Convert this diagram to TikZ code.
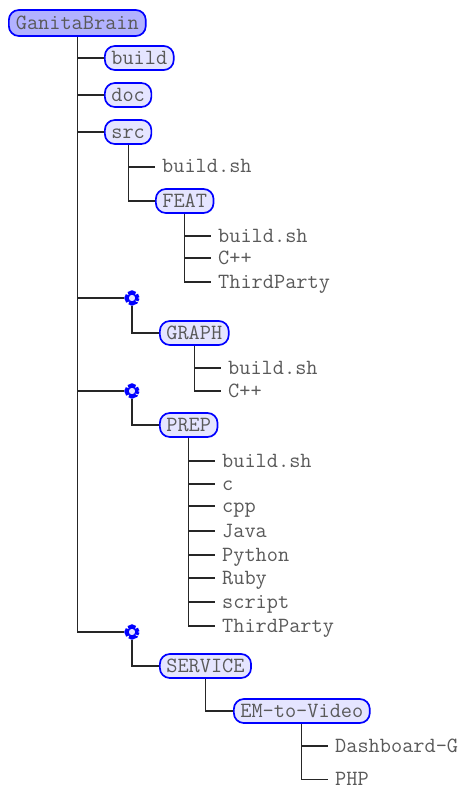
\documentclass[tikz,border=0pt]{standalone}
\usepackage{tikz}
\usetikzlibrary{positioning, shapes.geometric}

\begin{document}
\begin{tikzpicture}[x=1pt, y=-1pt, every node/.style={font=\fontsize{21.7}{24}\ttfamily, text=black!65, text height=15.5pt, text depth=3.5pt}]
    % styles
    \tikzstyle{rootdir} = [rectangle, rounded corners=10pt, draw=blue, line width=1.7pt, fill=blue!30, text height=16.5pt, inner xsep=7pt, inner ysep=3pt]
    \tikzstyle{dirbox} = [rectangle, rounded corners=10pt, draw=blue, line width=1.7pt, fill=blue!10, text height=16.5pt, inner xsep=6.5pt, inner ysep=2pt]
    \tikzstyle{leaf} = [rectangle, inner xsep=7pt, inner ysep=0pt]
    \tikzstyle{fold} = [circle, draw=blue, line width=4.2pt, dash pattern=on 7.5pt off 1.14pt, dash phase=3.75pt, fill=blue!10, text height=0pt, text depth=0pt, minimum size=11pt, inner sep=0pt]
    \tikzstyle{branch} = [line width=1.2pt, draw=black!85]

    \useasboundingbox (0,0) rectangle (459,786);

    % top level
    \node (root) [rootdir, anchor=west] at (8,23) {GanitaBrain};
    \node (build) [dirbox, anchor=west] at (104,58) {build};
    \node (doc) [dirbox, anchor=west] at (104,95) {doc};
    \node (src) [dirbox, anchor=west] at (104,132) {src};
    \node (foldG) [fold] at (132,298) {};
    \node (foldP) [fold] at (132,391) {};
    \node (foldS) [fold] at (132,632) {};

    % src
    \node (srcbuild) [leaf, anchor=west] at (155,167) {build.sh};
    \node (feat) [dirbox, anchor=west] at (155,201) {FEAT};
    \node (featbuild) [leaf, anchor=west] at (211,236) {build.sh};
    \node (featcpp) [leaf, anchor=west] at (211,258) {C++};
    \node (featthird) [leaf, anchor=west] at (211,282) {ThirdParty};

    % graph
    \node (graph) [dirbox, anchor=west] at (159,333) {GRAPH};
    \node (graphbuild) [leaf, anchor=west] at (221,368) {build.sh};
    \node (graphcpp) [leaf, anchor=west] at (221,391) {C++};

    % prep
    \node (prep) [dirbox, anchor=west] at (159,425) {PREP};
    \node (prepbuild) [leaf, anchor=west] at (215,461) {build.sh};
    \node (prepc) [leaf, anchor=west] at (215,484) {c};
    \node (prepcpp) [leaf, anchor=west] at (215,506) {cpp};
    \node (prepjava) [leaf, anchor=west] at (215,531) {Java};
    \node (preppython) [leaf, anchor=west] at (215,555) {Python};
    \node (prepruby) [leaf, anchor=west] at (215,578) {Ruby};
    \node (prepscript) [leaf, anchor=west] at (215,602) {script};
    \node (prepthird) [leaf, anchor=west] at (215,626) {ThirdParty};

    % service
    \node (service) [dirbox, anchor=west] at (159,666) {SERVICE};
    \node (video) [dirbox, anchor=west] at (233,711) {EM-to-Video};
    \node (dash) [leaf, anchor=west] at (328,746) {Dashboard-G};
    \node (php) [leaf, anchor=west, text height=11pt, text depth=0pt] at (328,779.5) {PHP};

    % branches
    \foreach \kid in {build, doc, src, foldG, foldP, foldS}
        \draw [branch] (root.south) |- (\kid.west);
    \foreach \kid in {srcbuild, feat}
        \draw [branch] (src.south) |- (\kid.west);
    \foreach \kid in {featbuild, featcpp, featthird}
        \draw [branch] (feat.south) |- (\kid.west);
    \foreach \kid in {graphbuild, graphcpp}
        \draw [branch] (graph.south) |- (\kid.west);
    \foreach \kid in {prepbuild, prepc, prepcpp, prepjava, preppython, prepruby, prepscript, prepthird}
        \draw [branch] (prep.south) |- (\kid.west);
    \foreach \kid in {dash, php}
        \draw [branch] (video.south) |- (\kid.west);
    \draw [branch] (foldG.south) |- (graph.west);
    \draw [branch] (foldP.south) |- (prep.west);
    \draw [branch] (foldS.south) |- (service.west);
    \draw [branch] (service.south) |- (video.west);
\end{tikzpicture}
\end{document}
